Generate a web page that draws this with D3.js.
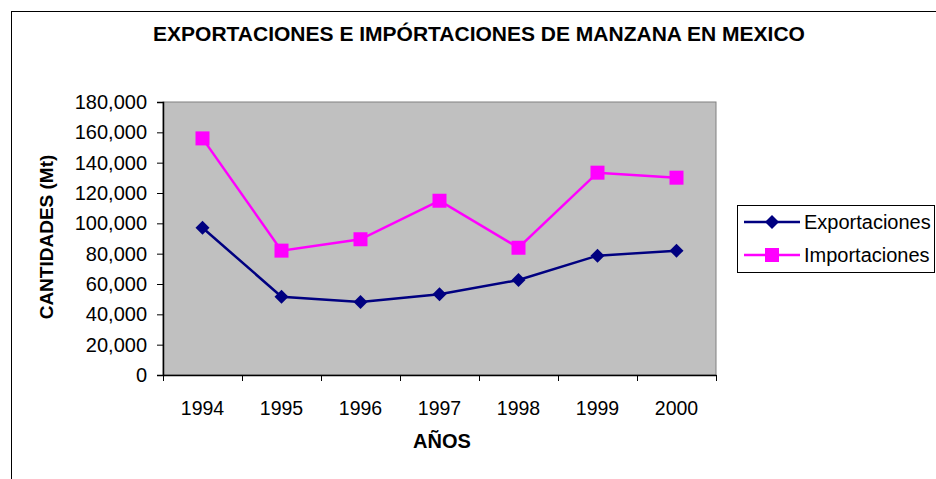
<!DOCTYPE html>
<html>
<head>
<meta charset="utf-8">
<script src="https://cdn.jsdelivr.net/npm/d3@7"></script>
<style>
  body { margin: 0; background: #fff; }
  svg { display: block; font-family: "Liberation Sans", Arial, sans-serif; }
</style>
</head>
<body>
<div id="chart"></div>
<script>
// datos
const years = ["1994", "1995", "1996", "1997", "1998", "1999", "2000"];
const exportaciones = [97100, 51600, 48100, 53200, 62600, 78700, 82000];
const importaciones = [156000, 82000, 89500, 114900, 83900, 133400, 130100];
const yTicks = [0, 20000, 40000, 60000, 80000, 100000, 120000, 140000, 160000, 180000];

const series = [
  { name: "Exportaciones", values: exportaciones, color: "#000080", shape: "diamond" },
  { name: "Importaciones", values: importaciones, color: "#FF00FF", shape: "square" }
];

const width = 936, height = 479;
const plot = { left: 163, right: 716, top: 102, bottom: 375 };

const svg = d3.select("#chart").append("svg")
  .attr("width", width)
  .attr("height", height);

// borde del area del grafico
svg.append("rect")
  .attr("x", 11.5).attr("y", 11.5)
  .attr("width", width + 20).attr("height", height + 20)
  .attr("fill", "none").attr("stroke", "#000");

svg.append("text")
  .attr("x", 479).attr("y", 41)
  .attr("text-anchor", "middle")
  .attr("font-weight", "bold")
  .attr("font-size", 21)
  .text("EXPORTACIONES E IMPÓRTACIONES DE MANZANA EN MEXICO");

const x = d3.scaleBand().domain(years).range([plot.left, plot.right]);
const y = d3.scaleLinear().domain([0, 180000]).range([plot.bottom, plot.top]);

// fondo gris
svg.append("rect")
  .attr("x", plot.left).attr("y", plot.top)
  .attr("width", plot.right - plot.left).attr("height", plot.bottom - plot.top)
  .attr("fill", "#C0C0C0").attr("stroke", "#808080");

const fmt = d3.format(",");

const yAxis = svg.append("g")
  .attr("transform", `translate(${plot.left},0)`)
  .call(d3.axisLeft(y).tickValues(yTicks).tickFormat(fmt).tickSize(6).tickPadding(10));
yAxis.select(".domain").attr("stroke", "#000").attr("stroke-width", 1.5);
yAxis.selectAll(".tick line").attr("stroke", "#000");
yAxis.selectAll("text").attr("font-size", 20).attr("fill", "#000").attr("font-family", null);

const xAxis = svg.append("g")
  .attr("transform", `translate(0,${plot.bottom})`)
  .call(d3.axisBottom(x).tickSize(0).tickPadding(26));
xAxis.select(".domain").attr("stroke", "#000").attr("stroke-width", 1.5);
xAxis.selectAll("text").attr("font-size", 19.5).attr("fill", "#000").attr("font-family", null);

// marcas entre categorias
const bounds = years.map(d => x(d)).concat([x.range()[1]]);
svg.append("g").selectAll("line")
  .data(bounds)
  .join("line")
  .attr("x1", d => Math.round(d) + 0.5).attr("x2", d => Math.round(d) + 0.5)
  .attr("y1", plot.bottom).attr("y2", plot.bottom + 6)
  .attr("stroke", "#000");

svg.append("text")
  .attr("x", 442).attr("y", 448)
  .attr("text-anchor", "middle")
  .attr("font-weight", "bold")
  .attr("font-size", 20)
  .text("AÑOS");

svg.append("text")
  .attr("transform", `translate(53,237) rotate(-90)`)
  .attr("text-anchor", "middle")
  .attr("font-weight", "bold")
  .attr("font-size", 19)
  .text("CANTIDADES (Mt)");

const cx = d => x(d) + x.bandwidth() / 2;

function marker(g, s, px, py) {
  if (s.shape === "diamond") {
    g.append("path")
      .attr("d", `M${px},${py - 7}L${px + 7},${py}L${px},${py + 7}L${px - 7},${py}Z`)
      .attr("fill", s.color);
  } else {
    g.append("rect")
      .attr("x", px - 7).attr("y", py - 7)
      .attr("width", 14).attr("height", 14)
      .attr("fill", s.color);
  }
}

const line = d3.line().x((d, i) => cx(years[i])).y(d => y(d));

series.forEach(s => {
  const g = svg.append("g");
  g.append("path")
    .attr("d", line(s.values))
    .attr("fill", "none")
    .attr("stroke", s.color)
    .attr("stroke-width", 2.5);
  s.values.forEach((v, i) => marker(g, s, cx(years[i]), y(v)));
});

// leyenda
const legend = svg.append("g");
legend.append("rect")
  .attr("x", 737.5).attr("y", 205.5)
  .attr("width", 197).attr("height", 67)
  .attr("fill", "#fff").attr("stroke", "#000");

series.forEach((s, i) => {
  const ly = 222 + i * 33;
  const g = legend.append("g");
  g.append("line")
    .attr("x1", 744).attr("x2", 800)
    .attr("y1", ly).attr("y2", ly)
    .attr("stroke", s.color).attr("stroke-width", 2.5);
  marker(g, s, 772, ly);
  g.append("text")
    .attr("x", 804).attr("y", ly + 7)
    .attr("font-size", 20)
    .text(s.name);
});
</script>
</body>
</html>
